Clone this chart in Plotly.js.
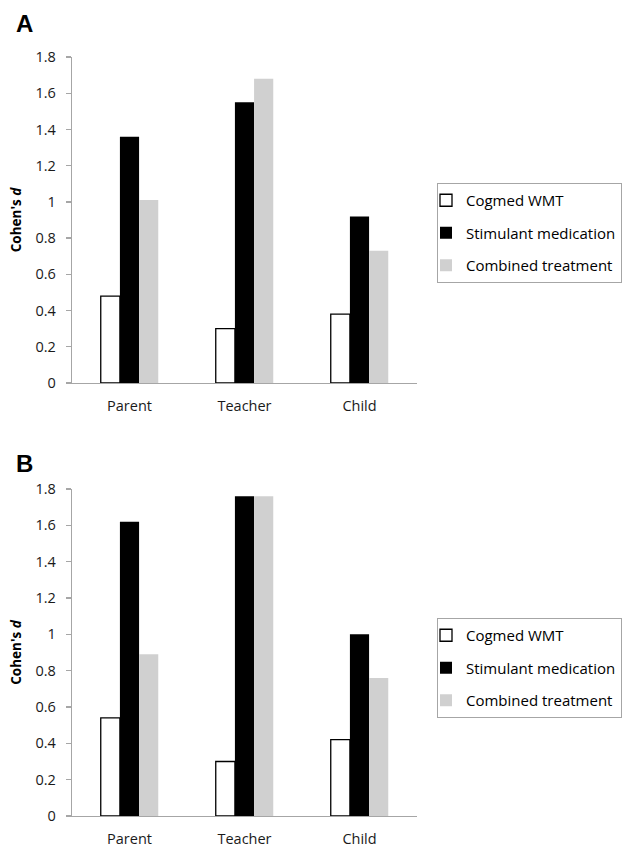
<!DOCTYPE html>
<html>
<head>
<meta charset="utf-8">
<script src="https://cdn.plot.ly/plotly-3.0.1.min.js"></script>
<style>html,body{margin:0;padding:0;background:#fff}#chart{width:623px;height:847px}</style>
</head>
<body>
<div id="chart"></div>
<script>
const categories = ["Parent", "Teacher", "Child"];
const seriesNames = ["Cogmed WMT", "Stimulant medication", "Combined treatment"];
const panelA_cogmed = [0.48, 0.30, 0.38];
const panelA_stimulant = [1.36, 1.55, 0.92];
const panelA_combined = [1.01, 1.68, 0.73];
const panelB_cogmed = [0.54, 0.30, 0.42];
const panelB_stimulant = [1.62, 1.76, 1.00];
const panelB_combined = [0.89, 1.76, 0.76];
const yTickVals = [0, 0.2, 0.4, 0.6, 0.8, 1, 1.2, 1.4, 1.6, 1.8];

const W = 623, H = 847;
const FONT = "'Open Sans', Lato, sans-serif";
const styles = [
  {color: "#ffffff", line: {color: "#000000", width: 1.3}},
  {color: "#000000", line: {color: "#000000", width: 0}},
  {color: "#d0d0d0", line: {color: "#d0d0d0", width: 0}}
];

function mk(vals, i, xa, ya, leg) {
  return {
    type: "bar", x: categories, y: vals, name: seriesNames[i],
    xaxis: xa, yaxis: ya, legend: leg, legendgroup: leg + "g" + i,
    marker: styles[i], hoverinfo: "skip"
  };
}

const data = [
  mk(panelA_cogmed, 0, "x", "y", "legend"),
  mk(panelA_stimulant, 1, "x", "y", "legend"),
  mk(panelA_combined, 2, "x", "y", "legend"),
  mk(panelB_cogmed, 0, "x2", "y2", "legend2"),
  mk(panelB_stimulant, 1, "x2", "y2", "legend2"),
  mk(panelB_combined, 2, "x2", "y2", "legend2")
];

const xdom = [72 / W, 417 / W];
function xaxis(anchor) {
  return {
    domain: xdom, anchor: anchor, showgrid: false, zeroline: false,
    showline: true, linecolor: "#a6a6a6", linewidth: 1.3, ticks: "",
    tickfont: {family: FONT, size: 14.5, color: "#1a1a1a"},
    ticklabelstandoff: 9, fixedrange: true
  };
}
function yaxis(anchor, top, bottom) {
  return {
    domain: [(H - bottom) / H, (H - top) / H], anchor: anchor,
    range: [0, 1.8], tickvals: yTickVals, showgrid: false, zeroline: false,
    showline: true, linecolor: "#a6a6a6", linewidth: 1.3,
    ticks: "outside", ticklen: 5, tickcolor: "#a6a6a6", tickwidth: 1.3,
    tickfont: {family: FONT, size: 14.5, color: "#1a1a1a"},
    ticklabelstandoff: 7,
    title: {text: "<b>Cohen's <i>d</i></b>", font: {family: "'Open Sans', sans-serif", size: 13.5, color: "#000"}, standoff: 10},
    fixedrange: true
  };
}
function legend(top) {
  return {
    x: 437 / W, xanchor: "left", y: (H - top) / H, yanchor: "top",
    bgcolor: "#ffffff", bordercolor: "#a6a6a6", borderwidth: 1,
    font: {family: FONT, size: 15, color: "#000"},
    tracegroupgap: 10, indentation: -12, itemclick: false, itemdoubleclick: false
  };
}

const layout = {
  width: W, height: H,
  margin: {l: 0, r: 0, t: 0, b: 0},
  paper_bgcolor: "#ffffff", plot_bgcolor: "#ffffff",
  barmode: "group", bargap: 0.5, bargroupgap: 0,
  showlegend: true,
  xaxis: xaxis("y"),
  yaxis: yaxis("x", 57, 383),
  xaxis2: xaxis("y2"),
  yaxis2: yaxis("x2", 489, 816),
  legend: legend(183),
  legend2: legend(618),
  annotations: [
    {text: "<b>A</b>", xref: "paper", yref: "paper", x: 14 / W, y: (H - 24) / H, xanchor: "left", yanchor: "middle", showarrow: false, font: {family: "Arial, 'Liberation Sans', sans-serif", size: 24, color: "#000"}},
    {text: "<b>B</b>", xref: "paper", yref: "paper", x: 14 / W, y: (H - 464) / H, xanchor: "left", yanchor: "middle", showarrow: false, font: {family: "Arial, 'Liberation Sans', sans-serif", size: 24, color: "#000"}}
  ]
};

Plotly.newPlot("chart", data, layout, {displayModeBar: false, staticPlot: true});
</script>
</body>
</html>
